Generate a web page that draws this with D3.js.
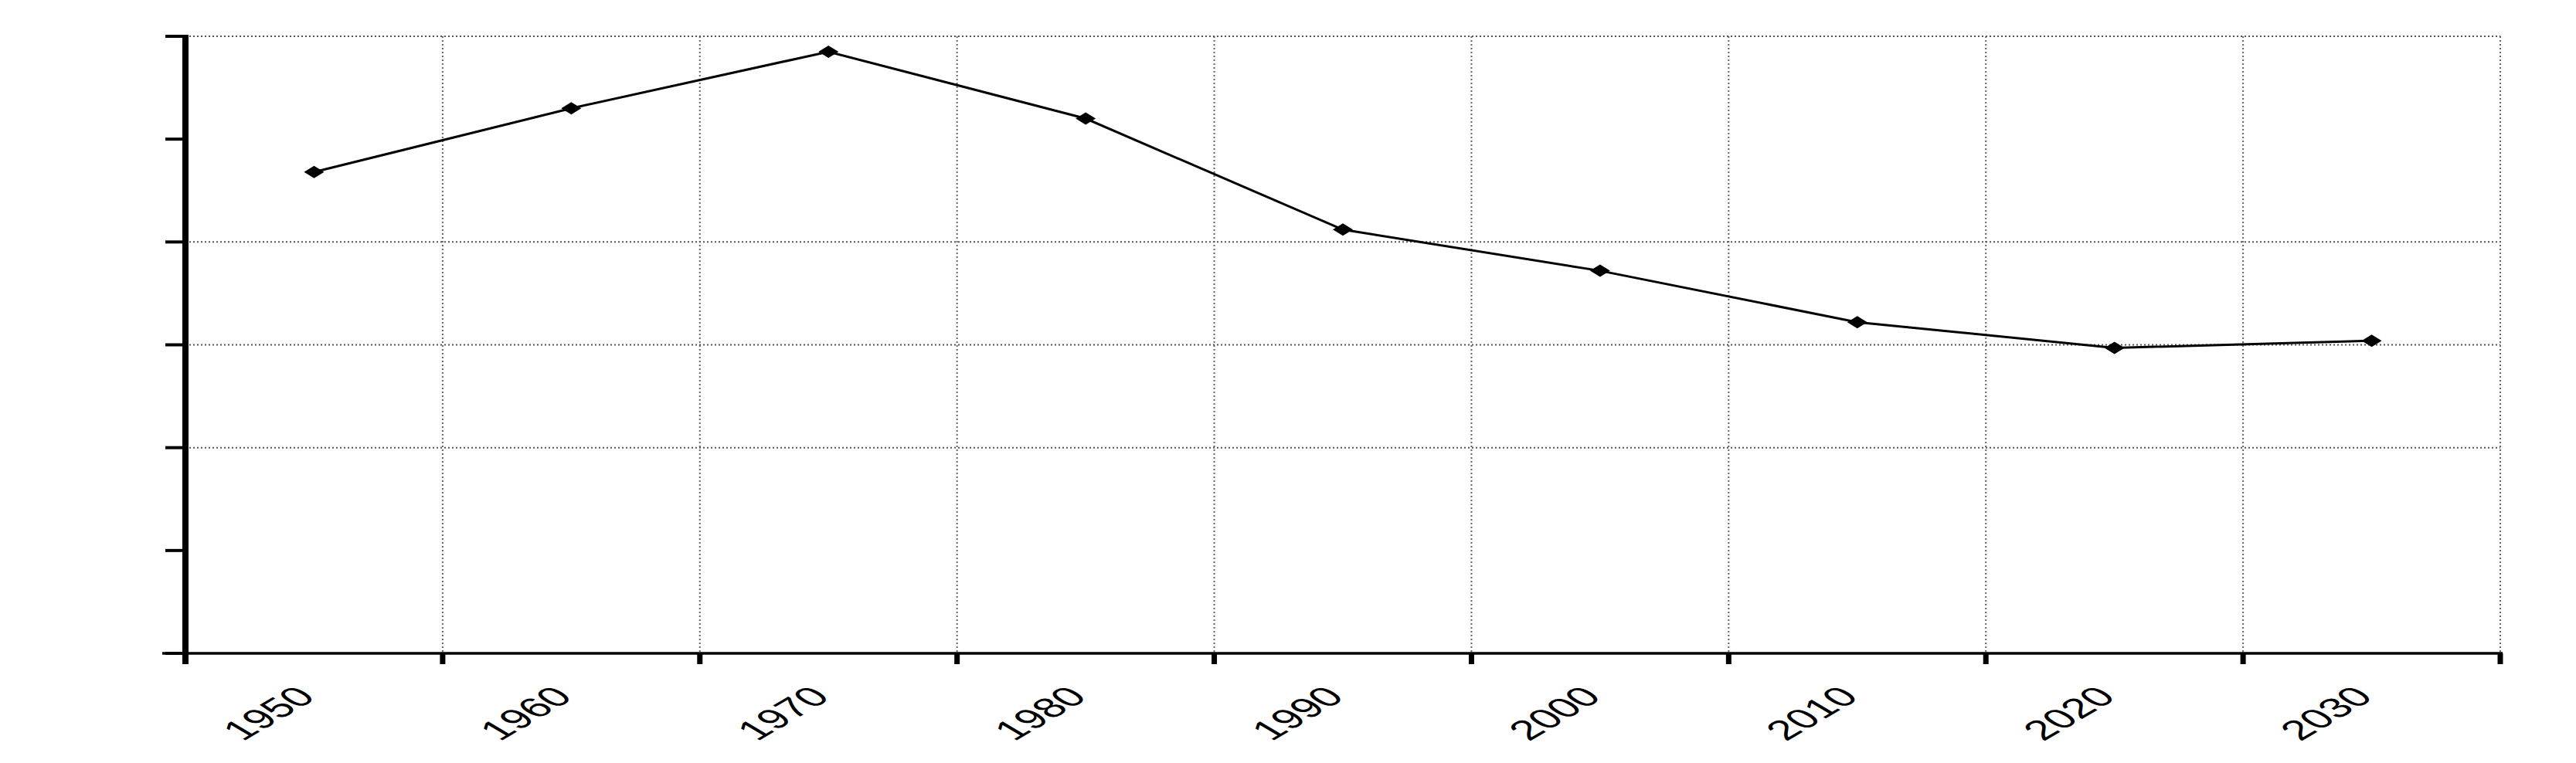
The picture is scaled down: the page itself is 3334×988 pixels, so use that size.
<!DOCTYPE html>
<html>
<head>
<meta charset="utf-8">
<script src="https://cdn.jsdelivr.net/npm/d3@7"></script>
<style>
  body { margin: 0; background: #fff; }
  .lbl { font-family: "Liberation Sans", Arial, sans-serif; font-size: 36px; fill: #000; }
</style>
</head>
<body>
<svg class="chart"></svg>
<script>
// chart values
var categories = ["1950", "1960", "1970", "1980", "1990", "2000", "2010", "2020", "2030"];
var values = [4.68, 5.30, 5.85, 5.20, 4.12, 3.72, 3.22, 2.97, 3.04];
var yTicks = [0, 1, 2, 3, 4, 5, 6];
var yGrid = [2, 3, 4, 6];

var gwidth = 3334, gheight = 988;
var plotLeft = 240, plotRight = 3236, plotTop = 47, plotBottom = 846;
// the original picture was stretched sideways
var stretch = 1.7;

var svg = d3.select(".chart")
  .attr("width", gwidth)
  .attr("height", gheight)
  .style("background-color", "#fff");

var x = d3.scaleBand()
  .domain(categories)
  .range([plotLeft, plotRight])
  .padding(0);
var y = d3.scaleLinear()
  .domain([0, 6])
  .range([plotBottom, plotTop]);

// band edges = tick positions (one more than categories)
var edges = categories.map(function(c){ return x(c); }).concat([plotRight]);

// vertical dotted grid
svg.append("g").selectAll("line")
  .data(edges.slice(1))
  .enter().append("line")
  .attr("x1", function(d){ return d; })
  .attr("x2", function(d){ return d; })
  .attr("y1", plotTop)
  .attr("y2", plotBottom)
  .attr("stroke", "#666")
  .attr("stroke-width", 2)
  .attr("stroke-dasharray", "2,3");

// horizontal dotted grid
svg.append("g").selectAll("line")
  .data(yGrid)
  .enter().append("line")
  .attr("x1", plotLeft)
  .attr("x2", plotRight)
  .attr("y1", function(d){ return y(d); })
  .attr("y2", function(d){ return y(d); })
  .attr("stroke", "#555")
  .attr("stroke-width", 2)
  .attr("stroke-dasharray", "2,3");

// x axis line and ticks
svg.append("line")
  .attr("x1", plotLeft - 30).attr("x2", plotRight + 3)
  .attr("y1", plotBottom).attr("y2", plotBottom)
  .attr("stroke", "#000").attr("stroke-width", 3.5);
svg.append("g").selectAll("line")
  .data(edges)
  .enter().append("line")
  .attr("x1", function(d){ return d; })
  .attr("x2", function(d){ return d; })
  .attr("y1", plotBottom)
  .attr("y2", plotBottom + 14)
  .attr("stroke", "#000")
  .attr("stroke-width", 7);

// y axis line and ticks (no labels)
svg.append("line")
  .attr("x1", plotLeft).attr("x2", plotLeft)
  .attr("y1", plotTop - 2).attr("y2", plotBottom + 14)
  .attr("stroke", "#000").attr("stroke-width", 8);
svg.append("g").selectAll("line")
  .data(yTicks)
  .enter().append("line")
  .attr("x1", plotLeft - 26)
  .attr("x2", plotLeft)
  .attr("y1", function(d){ return y(d); })
  .attr("y2", function(d){ return y(d); })
  .attr("stroke", "#000")
  .attr("stroke-width", 4);

// rotated category labels
svg.append("g").selectAll("text")
  .data(categories)
  .enter().append("text")
  .attr("class", "lbl")
  .attr("text-anchor", "end")
  .attr("transform", function(d){
    return "translate(" + (x(d) + x.bandwidth() / 2 + 4) + "," + (plotBottom + 58) + ") scale(" + stretch + ",1) rotate(-45)";
  })
  .text(function(d){ return d; });

// the series line
var line = d3.line()
  .x(function(d, i){ return x(categories[i]) + x.bandwidth() / 2; })
  .y(function(d){ return y(d); });
svg.append("path")
  .datum(values)
  .attr("d", line)
  .attr("fill", "none")
  .attr("stroke", "#000")
  .attr("stroke-width", 3);

// diamond markers
svg.append("g").selectAll("path")
  .data(values)
  .enter().append("path")
  .attr("transform", function(d, i){
    return "translate(" + (x(categories[i]) + x.bandwidth() / 2) + "," + y(d) + ")";
  })
  .attr("d", "M-13,0L0,-8L13,0L0,8Z")
  .attr("fill", "#000");
</script>
</body>
</html>
